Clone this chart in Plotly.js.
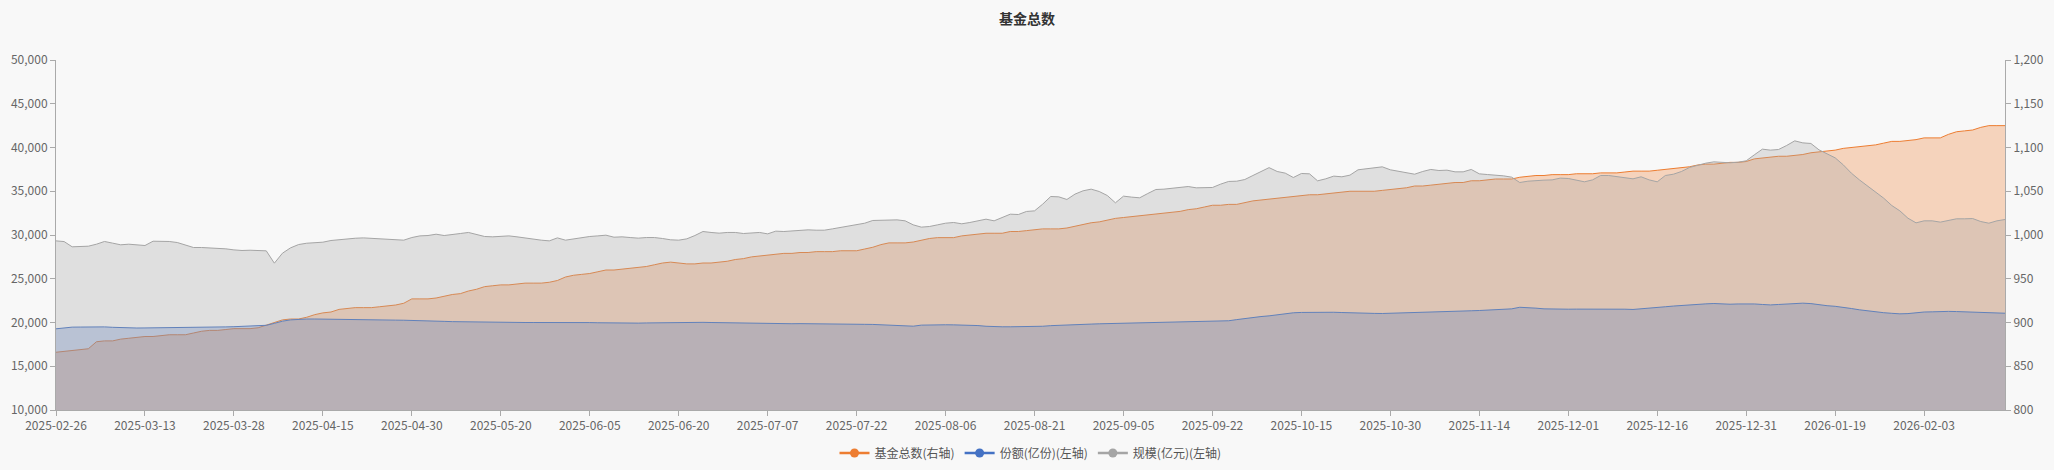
<!DOCTYPE html>
<html>
<head>
<meta charset="utf-8">
<script src="https://cdn.plot.ly/plotly-3.0.1.min.js"></script>
<style>html,body{margin:0;padding:0;background:#f8f8f8;}#chart{width:2054px;height:470px;}</style>
</head>
<body>
<div id="chart"></div>
<script>
const dates = [
"2025-02-26","2025-02-27","2025-02-28",
"2025-03-03","2025-03-04","2025-03-05","2025-03-06","2025-03-07","2025-03-10","2025-03-11","2025-03-12","2025-03-13","2025-03-14","2025-03-17","2025-03-18","2025-03-19","2025-03-20","2025-03-21","2025-03-24","2025-03-25","2025-03-26","2025-03-27","2025-03-28","2025-03-31",
"2025-04-01","2025-04-02","2025-04-03","2025-04-07","2025-04-08","2025-04-09","2025-04-10","2025-04-11","2025-04-14","2025-04-15","2025-04-16","2025-04-17","2025-04-18","2025-04-21","2025-04-22","2025-04-23","2025-04-24","2025-04-25","2025-04-28","2025-04-29","2025-04-30",
"2025-05-06","2025-05-07","2025-05-08","2025-05-09","2025-05-12","2025-05-13","2025-05-14","2025-05-15","2025-05-16","2025-05-19","2025-05-20","2025-05-21","2025-05-22","2025-05-23","2025-05-26","2025-05-27","2025-05-28","2025-05-29","2025-05-30",
"2025-06-03","2025-06-04","2025-06-05","2025-06-06","2025-06-09","2025-06-10","2025-06-11","2025-06-12","2025-06-13","2025-06-16","2025-06-17","2025-06-18","2025-06-19","2025-06-20","2025-06-23","2025-06-24","2025-06-25","2025-06-26","2025-06-27","2025-06-30",
"2025-07-01","2025-07-02","2025-07-03","2025-07-04","2025-07-07","2025-07-08","2025-07-09","2025-07-10","2025-07-11","2025-07-14","2025-07-15","2025-07-16","2025-07-17","2025-07-18","2025-07-21","2025-07-22","2025-07-23","2025-07-24","2025-07-25","2025-07-28","2025-07-29","2025-07-30","2025-07-31",
"2025-08-01","2025-08-04","2025-08-05","2025-08-06","2025-08-07","2025-08-08","2025-08-11","2025-08-12","2025-08-13","2025-08-14","2025-08-15","2025-08-18","2025-08-19","2025-08-20","2025-08-21","2025-08-22","2025-08-25","2025-08-26","2025-08-27","2025-08-28","2025-08-29",
"2025-09-01","2025-09-02","2025-09-03","2025-09-04","2025-09-05","2025-09-08","2025-09-09","2025-09-10","2025-09-11","2025-09-12","2025-09-15","2025-09-16","2025-09-17","2025-09-18","2025-09-19","2025-09-22","2025-09-23","2025-09-24","2025-09-25","2025-09-26","2025-09-29","2025-09-30",
"2025-10-09","2025-10-10","2025-10-13","2025-10-14","2025-10-15","2025-10-16","2025-10-17","2025-10-20","2025-10-21","2025-10-22","2025-10-23","2025-10-24","2025-10-27","2025-10-28","2025-10-29","2025-10-30","2025-10-31",
"2025-11-03","2025-11-04","2025-11-05","2025-11-06","2025-11-07","2025-11-10","2025-11-11","2025-11-12","2025-11-13","2025-11-14","2025-11-17","2025-11-18","2025-11-19","2025-11-20","2025-11-21","2025-11-24","2025-11-25","2025-11-26","2025-11-27","2025-11-28",
"2025-12-01","2025-12-02","2025-12-03","2025-12-04","2025-12-05","2025-12-08","2025-12-09","2025-12-10","2025-12-11","2025-12-12","2025-12-15","2025-12-16","2025-12-17","2025-12-18","2025-12-19","2025-12-22","2025-12-23","2025-12-24","2025-12-25","2025-12-26","2025-12-29","2025-12-30","2025-12-31",
"2026-01-05","2026-01-06","2026-01-07","2026-01-08","2026-01-09","2026-01-12","2026-01-13","2026-01-14","2026-01-15","2026-01-16","2026-01-19","2026-01-20","2026-01-21","2026-01-22","2026-01-23","2026-01-26","2026-01-27","2026-01-28","2026-01-29","2026-01-30",
"2026-02-02","2026-02-03","2026-02-04","2026-02-05","2026-02-06","2026-02-09","2026-02-10","2026-02-11","2026-02-12","2026-02-13","2026-02-24","2026-02-25"
];

// 基金总数 (right axis)
const fundCount = [
866,867,868,869,870,878,879,879,881,882,
883,884,884,885,886,886,886,888,890,891,
891,892,893,893,893,894,897,900,903,904,
904,906,909,911,912,915,916,917,917,917,
918,919,920,922,927,927,927,928,930,932,
933,936,938,941,942,943,943,944,945,945,
945,946,948,952,954,955,956,958,960,960,
961,962,963,964,966,968,969,968,967,967,
968,968,969,970,972,973,975,976,977,978,
979,979,980,980,981,981,981,982,982,982,
984,986,989,991,991,991,992,994,996,997,
997,997,999,1000,1001,1002,1002,1002,1004,1004,
1005,1006,1007,1007,1007,1008,1010,1012,1014,1015,
1017,1019,1020,1021,1022,1023,1024,1025,1026,1027,
1029,1030,1032,1034,1034,1035,1035,1037,1039,1040,
1041,1042,1043,1044,1045,1046,1046,1047,1048,1049,
1050,1050,1050,1050,1051,1052,1053,1054,1056,1056,
1057,1058,1059,1060,1060,1062,1062,1063,1064,1064,
1064,1066,1067,1068,1068,1069,1069,1069,1070,1070,
1070,1071,1071,1071,1072,1073,1073,1073,1074,1075,
1076,1077,1078,1080,1081,1081,1082,1083,1083,1084,
1087,1088,1089,1090,1090,1091,1092,1094,1095,1096,
1097,1099,1100,1101,1102,1103,1105,1107,1107,1108,
1109,1111,1111,1111,1115,1118,1119,1120,1123,1125,
1125,1125
];

// 份额(亿份) (left axis)
const shares = [
19280,19400,19470,19480,19500,19520,19500,19450,19400,19380,
19370,19380,19390,19400,19390,19380,19370,19400,19430,19460,
19480,19500,19520,19560,19580,19600,19680,19900,20150,20300,
20380,20400,20400,20380,20350,20330,20340,20330,20320,20300,
20290,20280,20270,20260,20250,20230,20200,20170,20130,20100,
20080,20060,20050,20040,20030,20020,20010,20010,20000,20000,
20010,20010,20020,20020,20010,20000,19990,19970,19950,19930,
19920,19920,19930,19950,19970,19990,20010,20030,20040,20030,
20020,20000,19980,19960,19940,19920,19900,19880,19870,19860,
19860,19860,19870,19870,19860,19850,19840,19830,19820,19800,
19790,19780,19740,19700,19660,19620,19580,19700,19730,19740,
19740,19730,19720,19700,19650,19570,19520,19510,19510,19510,
19520,19540,19570,19640,19690,19730,19760,19790,19820,19850,
19870,19900,19910,19920,19930,19940,19960,19970,19990,20010,
20040,20060,20080,20100,20110,20200,20330,20460,20580,20680,
20760,20900,21020,21110,21150,21170,21180,21180,21170,21140,
21100,21080,21060,21040,21030,21050,21080,21110,21140,21170,
21190,21220,21250,21280,21310,21340,21370,21400,21430,21470,
21560,21740,21720,21640,21560,21530,21520,21520,21530,21540,
21550,21560,21560,21550,21520,21490,21550,21640,21720,21800,
21880,21960,22010,22070,22130,22170,22120,22090,22120,22150,
22120,22060,22010,22060,22120,22200,22210,22160,22000,21920,
21850,21750,21600,21450,21340,21180,21120,21050,20990,21020,
21140,21200,21220,21280,21270,21250,21220,21180,21120,21080,
21070,21060
];

// 规模(亿元) (left axis)
const scale = [
29330,29250,28650,28650,28720,28950,29260,29070,28880,28950,
28880,28800,29290,29290,29260,29140,28880,28570,28570,28530,
28460,28420,28300,28230,28260,28260,28190,26780,27920,28530,
28910,29060,29100,29180,29370,29450,29600,29630,29670,29630,
29560,29480,29450,29410,29710,29900,29940,30090,29940,30020,
30170,30290,30020,29830,29790,29870,29900,29790,29640,29520,
29410,29330,29670,29410,29560,29710,29830,29900,29980,29750,
29790,29710,29640,29710,29710,29600,29450,29410,29560,29940,
30400,30290,30210,30290,30290,30170,30210,30290,30130,30440,
30400,30480,30590,30590,30550,30550,30700,30860,31050,31240,
31350,31660,31690,31690,31730,31620,31160,30900,30970,31160,
31350,31430,31280,31430,31620,31810,31620,31960,32380,32340,
32690,32760,33520,34400,34360,34060,34670,35050,35240,34970,
34510,33680,34440,34330,34250,34740,35200,35240,35320,35430,
35540,35390,35390,35430,35810,36120,36150,36340,36800,37260,
37700,37260,37070,36570,37030,36990,36190,36420,36730,36650,
36840,37450,37560,37640,37790,37450,37300,37150,36950,37260,
37490,37370,37410,37220,37220,37490,36990,36910,36840,36760,
36610,36000,36150,36230,36270,36300,36500,36460,36300,36080,
36300,36800,36800,36650,36500,36420,36650,36300,36080,36800,
36950,37260,37720,37980,38210,38360,38290,38250,38320,38480,
39160,39810,39700,39770,40230,40760,40530,40460,39730,39310,
38820,38020,37070,36300,35620,34860,34210,33370,32760,31920,
31390,31620,31620,31470,31620,31850,31850,31880,31540,31350,
31620,31770
];

const seriesNames = ["基金总数(右轴)", "份额(亿份)(左轴)", "规模(亿元)(左轴)"];
const lineColors = ["#ED7D31", "#4472C4", "#A5A5A5"];
const fillColors = ["rgba(237,125,49,0.3)", "rgba(68,114,196,0.3)", "rgba(165,165,165,0.3)"];
const xTickLabels = dates.filter((d, i) => i % 11 === 0);

const traces = [
  {x: dates, y: fundCount, yaxis: "y", type: "scatter", mode: "lines", fill: "tozeroy",
   line: {color: lineColors[0], width: 1}, fillcolor: fillColors[0], name: seriesNames[0], showlegend: false},
  {x: dates, y: shares, yaxis: "y2", type: "scatter", mode: "lines", fill: "tozeroy",
   line: {color: lineColors[1], width: 1}, fillcolor: fillColors[1], name: seriesNames[1], showlegend: false},
  {x: dates, y: scale, yaxis: "y2", type: "scatter", mode: "lines", fill: "tozeroy",
   line: {color: lineColors[2], width: 1}, fillcolor: fillColors[2], name: seriesNames[2], showlegend: false}
];
// legend entries (line with circle icon)
seriesNames.forEach((n, k) => {
  traces.push({x: [null], y: [null], yaxis: k === 0 ? "y" : "y2", type: "scatter", mode: "lines+markers",
    name: n, line: {color: lineColors[k], width: 2.5}, marker: {color: lineColors[k], size: 9}, showlegend: true});
});

const axisCommon = {
  showgrid: false, zeroline: false, showline: true, linecolor: "#aaaaaa", linewidth: 1,
  ticks: "outside", ticklen: 5, tickcolor: "#aaaaaa", tickfont: {size: 12, color: "#666666"}
};

const layout = {
  width: 2054, height: 470,
  paper_bgcolor: "#f8f8f8", plot_bgcolor: "#f8f8f8",
  font: {family: "'Noto Sans CJK SC', 'Noto Sans', sans-serif", size: 12, color: "#666666"},
  margin: {l: 56, r: 49, t: 60, b: 60},
  title: {text: "<b>基金总数</b>", x: 0.5, xanchor: "center", y: 1 - 19 / 470, yanchor: "middle",
          font: {size: 14, color: "#333333"}},
  xaxis: Object.assign({}, axisCommon, {
    type: "category", range: [0, dates.length - 1], tickmode: "array",
    tickvals: xTickLabels, ticktext: xTickLabels, tickangle: 0
  }),
  yaxis: Object.assign({}, axisCommon, {
    side: "right", range: [800, 1200], dtick: 50, tick0: 800, tickformat: ",d"
  }),
  yaxis2: Object.assign({}, axisCommon, {
    side: "left", overlaying: "y", range: [10000, 50000], dtick: 5000, tick0: 10000, tickformat: ",d"
  }),
  legend: {orientation: "h", x: 0.5, xanchor: "center", yref: "container", y: 1 - 453 / 470, yanchor: "middle",
           font: {size: 12, color: "#555555"}, itemwidth: 30, bgcolor: "rgba(0,0,0,0)"},
  showlegend: true
};

Plotly.newPlot("chart", traces, layout, {displayModeBar: false, staticPlot: true});
</script>
</body>
</html>
